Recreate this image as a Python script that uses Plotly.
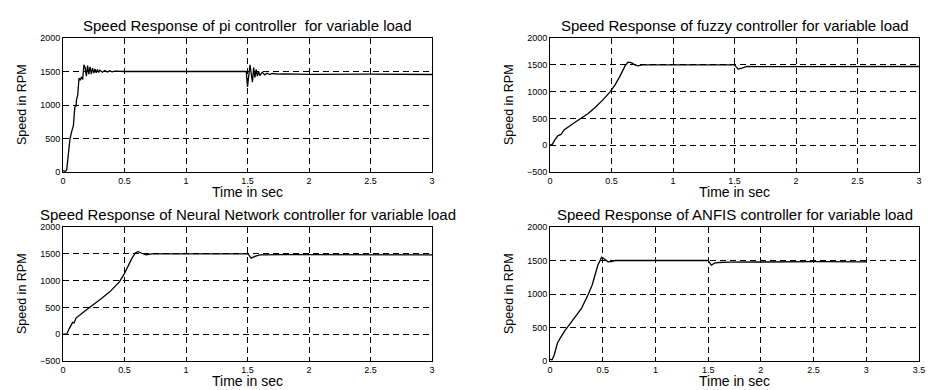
import plotly.graph_objects as go

# ---------------- data ----------------
pi_t = [0.00, 0.02, 0.03, 0.045, 0.057, 0.07, 0.085, 0.095, 0.10, 0.106,
        0.11, 0.12, 0.13, 0.14, 0.15, 0.16, 0.17, 0.18, 0.19, 0.20,
        0.21, 0.22, 0.23, 0.24, 0.25, 0.26, 0.27, 0.28, 0.29, 0.30,
        0.32, 0.34, 0.36, 0.38, 0.40, 0.42, 0.45, 0.50, 1.49, 1.50,
        1.505, 1.52, 1.53, 1.54, 1.55, 1.56, 1.57, 1.58, 1.59, 1.60,
        1.62, 1.64, 1.66, 1.68, 1.70, 1.75, 1.80, 2.00, 2.50, 3.00]
pi_v = [20, 10, 30, 350, 500, 600, 700, 950, 1000, 980,
        1080, 1150, 1400, 1370, 1420, 1380, 1600, 1560, 1430, 1590,
        1460, 1570, 1460, 1550, 1475, 1540, 1480, 1530, 1485, 1520,
        1490, 1515, 1492, 1510, 1495, 1505, 1500, 1500, 1500, 1270,
        1350, 1600, 1470, 1340, 1560, 1410, 1530, 1430, 1500, 1440,
        1490, 1450, 1475, 1455, 1470, 1460, 1465, 1458, 1460, 1455]

fz_t = [0, 0.02, 0.038, 0.065, 0.09, 0.114, 0.18, 0.25, 0.31, 0.36,
        0.43, 0.49, 0.53, 0.567, 0.61, 0.634, 0.66, 0.69, 0.715, 0.75,
        1.5, 1.51, 1.53, 1.56, 1.6, 1.7, 2.0, 2.3, 2.5, 2.7, 3.0]
fz_v = [0, 20, 95, 180, 200, 285, 390, 490, 590, 690,
        845, 1000, 1130, 1280, 1480, 1550, 1540, 1500, 1480, 1500,
        1500, 1470, 1420, 1440, 1470, 1465, 1465, 1470, 1468, 1472, 1468]

nn_t = [0, 0.03, 0.05, 0.078, 0.09, 0.106, 0.17, 0.246, 0.31, 0.38,
        0.46, 0.5, 0.56, 0.59, 0.61, 0.64, 0.675, 0.72, 1.5, 1.51,
        1.53, 1.56, 1.6, 1.8, 2.2, 2.6, 3.0]
nn_v = [0, 0, 100, 220, 210, 300, 420, 545, 660, 790,
        980, 1135, 1415, 1520, 1540, 1510, 1480, 1500, 1500, 1480,
        1420, 1450, 1480, 1485, 1480, 1482, 1480]

an_t = [0, 0.02, 0.04, 0.07, 0.1, 0.14, 0.23, 0.3, 0.36, 0.4,
        0.455, 0.49, 0.51, 0.55, 0.58, 0.62, 1.5, 1.51, 1.53, 1.56,
        1.6, 1.7, 2.0, 2.5, 3.0]
an_v = [25, 20, 90, 265, 350, 450, 640, 790, 985, 1135,
        1435, 1550, 1530, 1480, 1485, 1500, 1500, 1480, 1430, 1460,
        1470, 1475, 1480, 1482, 1480]

titles = ["Speed Response of pi controller  for variable load",
          "Speed Response of fuzzy controller for variable load",
          "Speed Response of Neural Network controller for variable load",
          "Speed Response of ANFIS controller for variable load"]
xlabel = "Time in sec"
ylabel = "Speed in RPM"

x_ticks_3 = [0, 0.5, 1, 1.5, 2, 2.5, 3]
x_ticklabels_3 = ["0", "0.5", "1", "1.5", "2", "2.5", "3"]
x_ticks_35 = [0, 0.5, 1, 1.5, 2, 2.5, 3, 3.5]
x_ticklabels_35 = ["0", "0.5", "1", "1.5", "2", "2.5", "3", "3.5"]
y_ticks_pos = [0, 500, 1000, 1500, 2000]
y_ticks_neg = [-500, 0, 500, 1000, 1500, 2000]

# ---------------- layout geometry ----------------
W, H = 933, 390
def px_x(p):
    return p / W
def px_y(p):
    return 1 - p / H

left_dom = [px_x(63), px_x(432)]
right_dom = [px_x(550), px_x(919)]
top_dom = [px_y(172), px_y(38)]
bot_dom = [px_y(361), px_y(227)]

panels = [
    dict(t=pi_t, v=pi_v, xd=left_dom, yd=top_dom, xr=[0, 3], yr=[0, 2000],
         xt=x_ticks_3, xl=x_ticklabels_3, yt=y_ticks_pos),
    dict(t=fz_t, v=fz_v, xd=right_dom, yd=top_dom, xr=[0, 3], yr=[-500, 2000],
         xt=x_ticks_3, xl=x_ticklabels_3, yt=y_ticks_neg),
    dict(t=nn_t, v=nn_v, xd=left_dom, yd=bot_dom, xr=[0, 3], yr=[-500, 2000],
         xt=x_ticks_3, xl=x_ticklabels_3, yt=y_ticks_neg),
    dict(t=an_t, v=an_v, xd=right_dom, yd=bot_dom, xr=[0, 3.5], yr=[0, 2000],
         xt=x_ticks_35, xl=x_ticklabels_35, yt=y_ticks_pos),
]

FONT = "Liberation Sans, Arial, sans-serif"
fig = go.Figure()
layout = dict(width=W, height=H, margin=dict(l=0, r=0, t=0, b=0, autoexpand=False),
              paper_bgcolor="white", plot_bgcolor="white", showlegend=False,
              font=dict(family=FONT, color="black"))
annotations = []
title_y = [26, 26, 214, 214]
xlab_y = [192, 192, 381, 381]

for i, p in enumerate(panels):
    n = "" if i == 0 else str(i + 1)
    fig.add_trace(go.Scatter(x=p["t"], y=p["v"], mode="lines",
                             line=dict(color="black", width=1.3),
                             xaxis="x" + n, yaxis="y" + n, hoverinfo="skip"))
    ax_common = dict(showline=True, linecolor="black", linewidth=1, mirror=True,
                     showgrid=True, gridcolor="black", griddash="6px,4px", gridwidth=1,
                     zeroline=False, ticks="inside", ticklen=3, tickcolor="black",
                     automargin=False,
                     tickfont=dict(size=9, family=FONT, color="black"))
    layout["xaxis" + n] = dict(ax_common, domain=p["xd"], range=p["xr"],
                               anchor="y" + n, tickvals=p["xt"], ticktext=p["xl"])
    layout["yaxis" + n] = dict(ax_common, domain=p["yd"], range=p["yr"],
                               anchor="x" + n, tickvals=p["yt"])
    cx = (p["xd"][0] + p["xd"][1]) / 2
    annotations.append(dict(text=titles[i], x=cx, y=px_y(title_y[i]), xref="paper",
                            yref="paper", showarrow=False, xanchor="center",
                            yanchor="middle", font=dict(size=15, family=FONT)))
    annotations.append(dict(text=xlabel, x=cx, y=px_y(xlab_y[i]), xref="paper",
                            yref="paper", showarrow=False, xanchor="center",
                            yanchor="middle", font=dict(size=14, family=FONT)))
    ylab_x = 22 if i in (0, 2) else 509
    cy = (p["yd"][0] + p["yd"][1]) / 2
    annotations.append(dict(text=ylabel, x=px_x(ylab_x), y=cy, xref="paper",
                            yref="paper", showarrow=False, xanchor="center",
                            yanchor="middle", textangle=-90,
                            font=dict(size=12.5, family=FONT)))

layout["annotations"] = annotations
fig.update_layout(**layout)
fig.write_html("out.html", config={"displayModeBar": False},
               post_script="document.body.style.margin='0';document.body.style.overflow='hidden';")
